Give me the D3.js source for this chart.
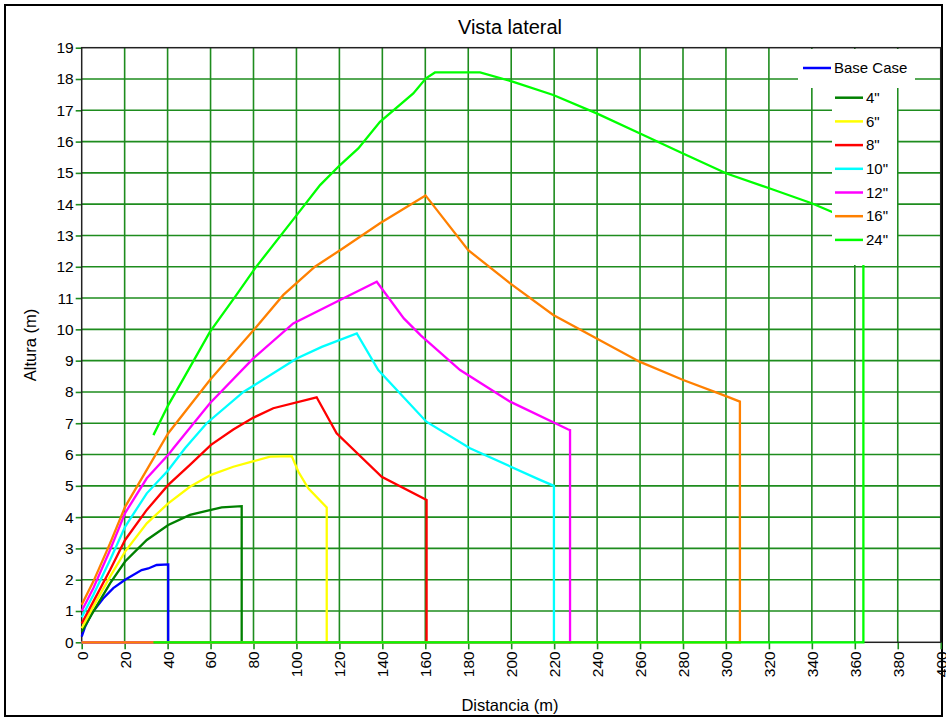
<!DOCTYPE html>
<html><head><meta charset="utf-8">
<script src="https://cdn.jsdelivr.net/npm/d3@7"></script>
<style>body{margin:0;background:#fff} text{font-family:"Liberation Sans",Arial,sans-serif;fill:#000}</style>
</head><body><svg id="c" width="946" height="717"></svg>
<script>
// ---- data ----
const seriesNames = ["Base Case", "4\"", "6\"", "8\"", "10\"", "12\"", "16\"", "24\""];
const seriesColors = ["#0000ff", "#008000", "#ffff00", "#ff0000", "#00ffff", "#ff00ff", "#ff8000", "#00ff00"];
const baseX = [0, 1.6, 4.7, 10, 14.7, 20.2, 27.9, 31, 34.9, 40.3];
const baseY = [0.18, 0.5, 0.93, 1.4, 1.73, 2.0, 2.31, 2.36, 2.47, 2.49];
const in4X = [0, 5.4, 13.2, 20.2, 30.3, 40.3, 50.4, 60.2, 65.2, 74.5];
const in4Y = [0.34, 0.98, 1.88, 2.58, 3.27, 3.75, 4.07, 4.23, 4.31, 4.35];
const in6X = [0, 5.4, 13.2, 20.2, 30.3, 40.3, 50.4, 60.2, 70.6, 87.7, 97.8, 100.9, 105.5, 114.1];
const in6Y = [0.45, 1.14, 2.1, 2.9, 3.8, 4.44, 4.97, 5.35, 5.61, 5.93, 5.95, 5.45, 4.92, 4.31];
const in8X = [0, 5.4, 13.2, 20.2, 30.3, 40.3, 50.4, 60.2, 70.6, 80, 89.2, 109.4, 118.7, 139.7, 160.6];
const in8Y = [0.6, 1.3, 2.31, 3.27, 4.23, 5.03, 5.67, 6.31, 6.8, 7.18, 7.48, 7.83, 6.68, 5.29, 4.55];
const in10X = [0, 5.4, 13.2, 20.2, 30.3, 40.3, 48.1, 58.2, 75.3, 100.1, 111.8, 128.1, 138.1, 160.5, 180.8, 213.4, 219.9];
const in10Y = [0.8, 1.51, 2.63, 3.69, 4.76, 5.5, 6.2, 7.0, 8.0, 9.07, 9.44, 9.87, 8.7, 7.05, 6.2, 5.19, 5.0];
const in12X = [0, 5.4, 13.2, 20.2, 30.3, 40.3, 42.7, 59.7, 79.9, 98.5, 120.3, 137.4, 150, 158, 176.2, 199.5, 226.6, 227.4];
const in12Y = [1.0, 1.73, 2.95, 4.13, 5.24, 5.99, 6.2, 7.64, 9.07, 10.19, 10.94, 11.52, 10.35, 9.8, 8.7, 7.69, 6.8, 6.78];
const in16X = [0, 5.4, 13.2, 20.2, 30.3, 40.3, 59.7, 80.7, 93.9, 108.6, 120.3, 138.9, 160.1, 180, 199.5, 219.6, 239.8, 260, 280.1, 298.8, 306.5];
const in16Y = [1.2, 1.94, 3.16, 4.33, 5.51, 6.68, 8.38, 10.03, 11.1, 12.0, 12.53, 13.39, 14.28, 12.53, 11.47, 10.46, 9.71, 8.96, 8.38, 7.9, 7.69];
const in24X = [33.4, 40.3, 46.6, 59.7, 71.4, 80.7, 100.1, 111, 120.3, 128.8, 138.9, 154.4, 160.3, 164.5, 185.5, 201, 219.6, 239.8, 260, 280, 300.3, 320.5, 339.9, 349.2, 364];
const in24Y = [6.62, 7.58, 8.33, 9.92, 11.04, 11.95, 13.65, 14.61, 15.25, 15.78, 16.63, 17.54, 18.02, 18.21, 18.21, 17.91, 17.49, 16.9, 16.26, 15.62, 14.98, 14.5, 14.03, 13.76, 13.3];
const xTicks = d3.range(0, 401, 20);
const yTicks = d3.range(0, 20, 1);
const titleText = "Vista lateral";
const xTitle = "Distancia (m)";
const yTitle = "Altura (m)";

const seriesX = [baseX, in4X, in6X, in8X, in10X, in12X, in16X, in24X];
const seriesY = [baseY, in4Y, in6Y, in8Y, in10Y, in12Y, in16Y, in24Y];

// ---- drawing ----
const svg = d3.select("#c");
const L = 81.7, R = 940.7, T = 47.7, B = 642.3;
const x = d3.scaleLinear().domain([0, 400]).range([L, R]);
const y = d3.scaleLinear().domain([0, 19]).range([B, T]);
const gridColor = "#1e8c1e";

// outer border
svg.append("rect").attr("x", 5).attr("y", 5).attr("width", 937).attr("height", 711)
  .attr("fill", "none").attr("stroke", "#000").attr("stroke-width", 2);

// title
svg.append("text").attr("x", 510).attr("y", 34).attr("text-anchor", "middle")
  .style("font-size", "20px").text(titleText);

// gridlines
const grid = svg.append("g");
grid.selectAll(".vg").data(xTicks.filter(d => d > 0 && d < 400)).enter().append("line")
  .attr("x1", d => x(d)).attr("x2", d => x(d)).attr("y1", T).attr("y2", B)
  .attr("stroke", gridColor).attr("stroke-width", 1.6);
grid.selectAll(".hg").data(yTicks.filter(d => d > 0 && d < 19)).enter().append("line")
  .attr("y1", d => y(d)).attr("y2", d => y(d)).attr("x1", L).attr("x2", R)
  .attr("stroke", gridColor).attr("stroke-width", 1.6);

// axes
const ya = svg.append("g").attr("transform", `translate(${L},0)`)
  .call(d3.axisLeft(y).tickValues(yTicks).tickSize(6).tickPadding(2).tickFormat(d3.format("d")));
ya.select(".domain").remove();
ya.selectAll(".tick line").attr("stroke", gridColor).attr("stroke-width", 1.6);
ya.selectAll("text").style("font-size", "15.5px").attr("fill", "#000");

const xa = svg.append("g").attr("transform", `translate(0,${B})`)
  .call(d3.axisBottom(x).tickValues(xTicks).tickSize(7).tickFormat(d3.format("d")));
xa.select(".domain").remove();
xa.selectAll(".tick line").attr("stroke", gridColor).attr("stroke-width", 1.6);
xa.selectAll("text").style("font-size", "15.5px").attr("fill", "#000")
  .attr("transform", "rotate(-90)").attr("x", -9).attr("y", 0).attr("dy", "0.35em")
  .style("text-anchor", "end");

// plot frame
svg.append("rect").attr("x", L).attr("y", T).attr("width", R - L).attr("height", B - T)
  .attr("fill", "none").attr("stroke", "#222").attr("stroke-width", 1.5);

// series
const line = d3.line().x(d => x(d[0])).y(d => y(d[1]));
seriesX.forEach((xs, i) => {
  const pts = xs.map((v, j) => [v, seriesY[i][j]]);
  pts.push([xs[xs.length - 1], 0]);
  pts.push([xs[0], 0]);
  svg.append("path").datum(pts).attr("d", line).attr("fill", "none")
    .attr("stroke", seriesColors[i]).attr("stroke-width", 2.3).attr("stroke-linejoin", "miter");
});

// legend
const lg = svg.append("g");
lg.append("rect").attr("x", 798).attr("y", 49).attr("width", 117).attr("height", 39).attr("fill", "#fff");
lg.append("rect").attr("x", 832).attr("y", 88).attr("width", 65).attr("height", 177).attr("fill", "#fff");
seriesNames.forEach((n, i) => {
  const ly = i === 0 ? 68 : 97.7 + (i - 1) * 23.7;
  const lx = i === 0 ? 803 : 835;
  lg.append("line").attr("x1", lx).attr("x2", lx + 28).attr("y1", ly).attr("y2", ly)
    .attr("stroke", seriesColors[i]).attr("stroke-width", 2.5);
  lg.append("text").attr("x", lx + 31).attr("y", ly).attr("dy", "0.35em")
    .style("font-size", "15px").text(n);
});

// axis titles
svg.append("text").attr("x", 510).attr("y", 711).attr("text-anchor", "middle")
  .style("font-size", "16.5px").text(xTitle);
svg.append("text").attr("transform", "translate(36,345) rotate(-90)").attr("text-anchor", "middle")
  .style("font-size", "16.5px").text(yTitle);
</script>
</body></html>
